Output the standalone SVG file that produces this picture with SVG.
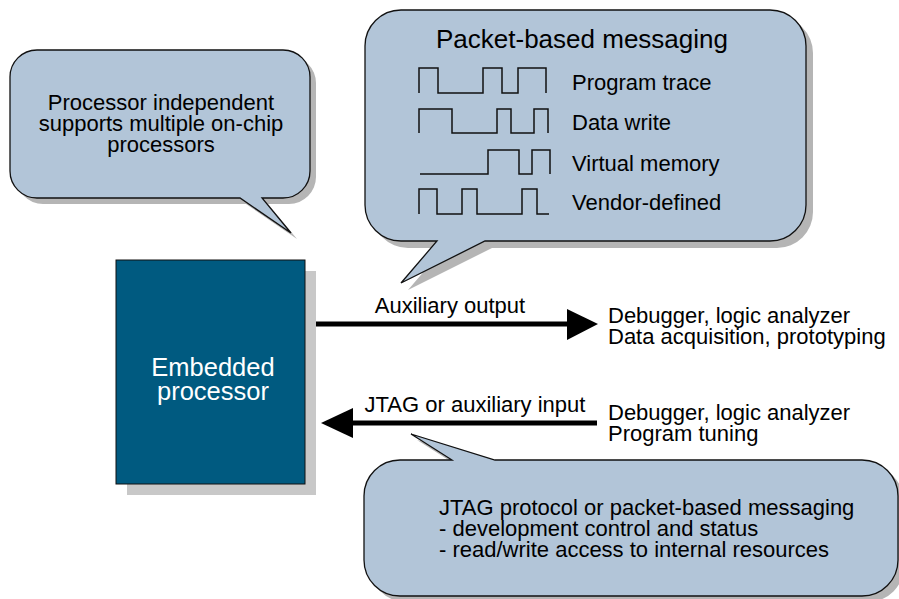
<svg xmlns="http://www.w3.org/2000/svg" xmlns:xlink="http://www.w3.org/1999/xlink" width="899" height="599" viewBox="0 0 899 599">
<style>
.bub{fill:#b2c5d8;stroke:#111;stroke-width:1.3}
.shd{fill:#b5b5b5}
.t{font-family:"Liberation Sans",Arial,Helvetica,sans-serif;font-size:22px;fill:#000}
.wave{fill:none;stroke:#111;stroke-width:1.5}
.arr{stroke:#000;stroke-width:5}
</style>
<defs>
<path id="b1" d="M37,50 H283 A27,27 0 0 1 310,77 V171 A27,27 0 0 1 283,198 H262 L291,233 L240,198 H37 A27,27 0 0 1 10,171 V77 A27,27 0 0 1 37,50 Z"/>
<path id="b2" d="M401,10 H770 A36,36 0 0 1 806,46 V205 A36,36 0 0 1 770,241 H485 L401,283 L437,241 H401 A36,36 0 0 1 365,205 V46 A36,36 0 0 1 401,10 Z"/>
<path id="b3" d="M400,460 H452 L411,434 L495,460 H862 A36,36 0 0 1 898,496 V560 A36,36 0 0 1 862,596 H400 A36,36 0 0 1 364,560 V496 A36,36 0 0 1 400,460 Z"/>
</defs>

<g id="bubble-processor-independent">
<use xlink:href="#b1" class="shd" transform="translate(6,6)"/>
<use xlink:href="#b1" class="bub"/>
<text class="t" text-anchor="middle" x="161" y="110">Processor independent</text>
<text class="t" text-anchor="middle" x="161" y="131">supports multiple on-chip</text>
<text class="t" text-anchor="middle" x="161" y="152">processors</text>
</g>

<g id="bubble-packet-messaging">
<use xlink:href="#b2" class="shd" transform="translate(7,7)"/>
<use xlink:href="#b2" class="bub"/>
<text class="t" text-anchor="middle" x="582" y="48" style="font-size:26px">Packet-based messaging</text>
<path class="wave" d="M419,93 V68 H438 V93 H483 V68 H502 V93 H518 V68 H546 V93"/>
<path class="wave" d="M419,133 V109 H452 V133 H497 V109 H511 V133 H534 V109 H548 V133"/>
<path class="wave" d="M420,174 H488 V150 H519 V174 H532 V150 H550 V174"/>
<path class="wave" d="M419,214 V189 H437 V214 H462 V189 H477 V214 H522 V189 H537 V214 H549"/>
<text class="t" x="572" y="90">Program trace</text>
<text class="t" x="572" y="130">Data write</text>
<text class="t" x="572" y="171">Virtual memory</text>
<text class="t" x="572" y="210">Vendor-defined</text>
</g>

<g id="bubble-jtag-protocol">
<use xlink:href="#b3" class="shd" transform="translate(6,6)"/>
<use xlink:href="#b3" class="bub"/>
<text class="t" x="439" y="515">JTAG protocol or packet-based messaging</text>
<text class="t" x="439" y="536">- development control and status</text>
<text class="t" x="439" y="557">- read/write access to internal resources</text>
</g>

<g id="embedded-processor">
<rect x="127" y="271" width="189" height="224" fill="#c8c8c8"/>
<rect x="116" y="260" width="189" height="224" fill="#005a80" stroke="#111" stroke-width="1"/>
<text class="t" text-anchor="middle" x="213" y="376" style="font-size:25.5px;fill:#fff">Embedded</text>
<text class="t" text-anchor="middle" x="213" y="400" style="font-size:25.5px;fill:#fff">processor</text>
</g>

<g id="connectors">
<line class="arr" x1="316" y1="324" x2="570" y2="324"/>
<polygon points="567,309 598,324 567,340" fill="#000"/>
<text class="t" text-anchor="middle" x="450" y="313">Auxiliary output</text>
<line class="arr" x1="597" y1="423" x2="350" y2="423"/>
<polygon points="353,408 321,423 353,438" fill="#000"/>
<text class="t" text-anchor="middle" x="475" y="412">JTAG or auxiliary input</text>
</g>

<g id="endpoint-output">
<text class="t" x="608" y="323">Debugger, logic analyzer</text>
<text class="t" x="608" y="344">Data acquisition, prototyping</text>
</g>
<g id="endpoint-input">
<text class="t" x="608" y="420">Debugger, logic analyzer</text>
<text class="t" x="608" y="441">Program tuning</text>
</g>
</svg>
